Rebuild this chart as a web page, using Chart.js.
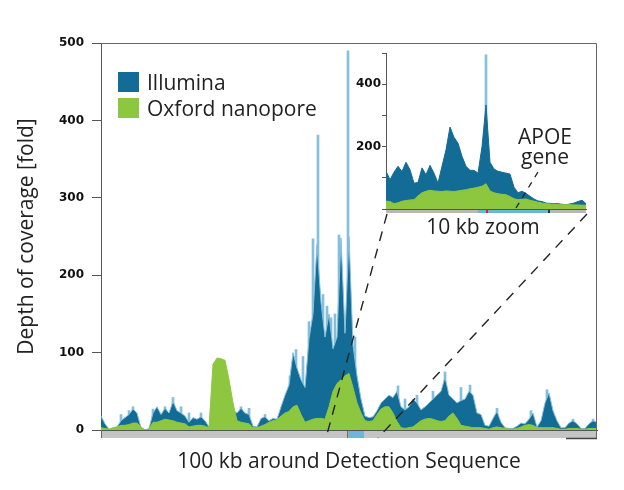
<!DOCTYPE html>
<html>
<head>
<meta charset="utf-8">
<script src="https://cdn.jsdelivr.net/npm/chart.js@4.4.1/dist/chart.umd.min.js"></script>
<style>
  html, body { margin: 0; padding: 0; background: #fff; }
  #wrap { position: relative; width: 624px; height: 490px; font-family: "Open Sans", sans-serif; color: #222; }
  #main { position: absolute; left: 0; top: 0; }
  #inset { position: absolute; left: 352px; top: 45px; }
  .lbl { position: absolute; white-space: nowrap; }
  .legend .row { display: flex; align-items: center; height: 26px; font-size: 21px; }
  .legend .sw { display: inline-block; width: 21px; height: 20px; margin-right: 8px; }
</style>
</head>
<body>
<div id="wrap">
  <canvas id="main" width="624" height="490" style="width:624px;height:490px"></canvas>
  <canvas id="inset" width="243" height="200" style="width:243px;height:200px"></canvas>
  <div class="lbl legend" style="left:118px;top:69px">
    <div class="row"><span class="sw" style="background:#136c96"></span>Illumina</div>
    <div class="row"><span class="sw" style="background:#8dc63f"></span>Oxford nanopore</div>
  </div>
  <div class="lbl" style="left:495px;top:126px;width:100px;text-align:center;font-size:21px;line-height:20px">APOE<br>gene</div>
  <div class="lbl" style="left:413px;top:213px;width:140px;text-align:center;font-size:21px;line-height:26px">10 kb zoom</div>
</div>
<script>
// 100 kb window, one bin every 0.8 kb
const mainKb = Array.from({ length: 125 }, (_, i) => i * 0.8);

const illumina = [
  18, 8, 1, 2, 4, 12, 16, 20, 27, 22,
  3, 0, 2, 22, 30, 20, 28, 22, 37, 25,
  22, 18, 10, 16, 14, 17, 12, 4, 10, 10,
  10, 15, 30, 25, 22, 28, 22, 20, 5, 4,
  15, 17, 12, 15, 14, 30, 45, 58, 100, 80,
  65, 55, 118, 150, 240, 165, 120, 150, 105, 120,
  248, 125, 250, 110, 70, 40, 18, 16, 17, 25,
  35, 40, 45, 42, 50, 30, 26, 30, 40, 35,
  26, 30, 35, 40, 45, 50, 68, 45, 40, 35,
  38, 40, 50, 45, 22, 20, 6, 5, 15, 24,
  10, 3, 2, 2, 5, 9, 8, 14, 22, 4,
  12, 35, 48, 25, 12, 3, 3, 9, 12, 8,
  2, 2, 8, 12, 10
];

const nanopore = [
  3, 2, 1, 3, 4, 6, 6, 7, 9, 9,
  4, 0, 1, 10, 10, 12, 14, 13, 12, 10,
  9, 8, 4, 5, 6, 6, 5, 3, 85, 93,
  92, 90, 65, 35, 12, 10, 9, 8, 3, 3,
  5, 7, 10, 12, 13, 18, 22, 24, 30, 32,
  20, 10, 12, 14, 15, 15, 14, 30, 50, 60,
  65, 70, 73, 55, 35, 22, 12, 11, 12, 20,
  27, 30, 30, 22, 11, 3, 2, 3, 4, 8,
  12, 14, 15, 14, 12, 11, 12, 18, 22, 15,
  6, 5, 4, 3, 3, 3, 2, 1, 3, 4,
  3, 2, 1, 1, 2, 4, 6, 7, 6, 3,
  3, 3, 3, 3, 2, 1, 1, 2, 2, 2,
  1, 1, 2, 2, 2
];

// thin light-blue Illumina read spikes
const spikeKb = [
  4.0, 5.6, 6.4, 10.4, 12.8, 14.4, 16.0, 17.6, 20.0, 28.0, 29.6, 32.8,
  37.8, 39.0, 40.4, 41.6, 42.4, 43.4, 44.4, 45.2, 46.0, 46.8, 47.6, 49.4, 50.8,
  59.4, 60.8, 63.2, 66.4, 68.8, 72.0, 73.8, 79.2, 86.0, 89.2, 94.4, 98.4
];
const spikeDepth = [
  20, 25, 30, 27, 30, 42, 30, 22, 22, 30, 28, 20,
  70, 104, 95, 140, 247, 381, 175, 160, 145, 150, 252, 490, 120,
  57, 40, 45, 50, 75, 55, 58, 28, 25, 52, 14, 14
];

// 10 kb zoom, one bin every 0.2 kb
const zoomKb = Array.from({ length: 51 }, (_, i) => i * 0.2);

const zoomIllumina = [
  121, 94, 118, 137, 120, 150, 126, 83, 85, 132,
  110, 140, 115, 83, 137, 190, 263, 230, 211, 169,
  137, 124, 124, 115, 200, 334, 150, 128, 121, 118,
  115, 112, 70, 52, 57, 50, 41, 32, 26, 24,
  19, 18, 17, 17, 15, 14, 16, 19, 24, 28,
  17
];

const zoomNanopore = [
  25, 24, 17, 20, 25, 27, 29, 30, 42, 52,
  57, 60, 58, 57, 56, 58, 57, 56, 58, 60,
  62, 65, 67, 70, 73, 81, 58, 52, 49, 47,
  46, 40, 33, 30, 31, 32, 28, 25, 22, 19,
  17, 16, 15, 14, 14, 14, 14, 13, 13, 12,
  12
];

const zoomSpikeKb    = [5.0];
const zoomSpikeDepth = [495];

const depthTicks = [0, 100, 200, 300, 400, 500];
const zoomTickLabels = [200, 400];

const DARK = '#136c96', LIGHT = '#86bfdc', GREEN = '#8dc63f', AXIS = '#555';
const tickFont = { family: 'DejaVu Sans', size: 12, weight: 'bold' };

function spikes(kb, depth) {
  return kb.map((x, i) => ({ x, y: depth[i] }));
}

const mainDecor = {
  id: 'mainDecor',
  afterDraw(chart) {
    const { ctx, chartArea: a } = chart;
    const xs = chart.scales.x;
    ctx.save();
    // coverage track bar under the axis
    ctx.fillStyle = '#c4c4c4';
    ctx.fillRect(a.left, a.bottom + 1, a.right - a.left, 7);
    ctx.fillStyle = '#6fb5d5';
    const h0 = xs.getPixelForValue(49.2), h1 = xs.getPixelForValue(52.6);
    ctx.fillRect(h0, a.bottom + 1, h1 - h0, 7);
    ctx.fillStyle = '#b0505a';
    ctx.fillRect(h0, a.bottom + 1, 1, 7);
    // frame
    ctx.strokeStyle = '#666';
    ctx.lineWidth = 1;
    ctx.beginPath();
    ctx.moveTo(a.left, a.top + 0.5);
    ctx.lineTo(a.right - 0.5, a.top + 0.5);
    ctx.lineTo(a.right - 0.5, a.bottom + 8);
    ctx.moveTo(a.left + 0.5, a.bottom);
    ctx.lineTo(a.left + 0.5, a.bottom + 8);
    ctx.stroke();
    ctx.strokeStyle = '#444';
    ctx.lineWidth = 1.5;
    ctx.beginPath();
    ctx.moveTo(a.right - 31, a.bottom + 8.5);
    ctx.lineTo(a.right, a.bottom + 8.5);
    ctx.stroke();
    // zoom connectors
    ctx.strokeStyle = '#222';
    ctx.lineWidth = 1.4;
    ctx.setLineDash([10, 8]);
    ctx.beginPath();
    ctx.moveTo(387, 214);
    ctx.lineTo(326, 438);
    ctx.moveTo(587, 214);
    ctx.lineTo(378, 438);
    ctx.stroke();
    ctx.restore();
  }
};

const insetDecor = {
  id: 'insetDecor',
  afterDraw(chart) {
    const { ctx, chartArea: a } = chart;
    const xs = chart.scales.x;
    ctx.save();
    ctx.fillStyle = '#b8b8b8';
    ctx.fillRect(a.left, a.bottom + 1, a.right - a.left, 3);
    const h0 = xs.getPixelForValue(4.6), h1 = xs.getPixelForValue(8.1);
    ctx.fillStyle = '#6fb5d5';
    ctx.fillRect(h0, a.bottom + 1, h1 - h0, 3);
    ctx.fillStyle = '#c0303a';
    ctx.fillRect(xs.getPixelForValue(5.0), a.bottom + 1, 2, 3);
    ctx.fillStyle = '#333';
    ctx.fillRect(h1, a.bottom + 1, 2, 3);
    // APOE pointer
    ctx.strokeStyle = '#222';
    ctx.lineWidth = 1.3;
    ctx.setLineDash([6, 6]);
    ctx.beginPath();
    ctx.moveTo(516 - 352, 208 - 45);
    ctx.lineTo(538 - 352, 172 - 45);
    ctx.stroke();
    ctx.restore();
  }
};

new Chart(document.getElementById('main').getContext('2d'), {
  type: 'line',
  data: {
    labels: mainKb,
    datasets: [
      {
        label: 'Oxford nanopore',
        data: nanopore,
        borderColor: GREEN,
        backgroundColor: GREEN,
        borderWidth: 1,
        fill: 'origin',
        pointRadius: 0,
        order: 0
      },
      {
        label: 'Illumina',
        data: illumina,
        borderColor: LIGHT,
        backgroundColor: DARK,
        borderWidth: 1,
        fill: 'origin',
        pointRadius: 0,
        order: 1
      },
      {
        type: 'bar',
        label: 'Illumina peaks',
        data: spikes(spikeKb, spikeDepth),
        backgroundColor: LIGHT,
        barThickness: 2,
        order: 2
      }
    ]
  },
  options: {
    responsive: false,
    animation: false,
    layout: { padding: { left: 0, right: 27, top: 43, bottom: 0 } },
    plugins: { legend: { display: false }, tooltip: { enabled: false } },
    scales: {
      x: {
        type: 'linear',
        min: 0,
        max: 99.2,
        offset: false,
        grid: { display: false },
        ticks: { display: false },
        border: { display: true, color: AXIS, width: 1 },
        title: {
          display: true,
          text: '100 kb around Detection Sequence',
          color: '#222',
          font: { family: 'Open Sans', size: 21 },
          padding: { top: 0, bottom: 15 }
        },
        afterFit: (s) => { s.height = 60; }
      },
      y: {
        min: 0,
        max: 500,
        afterBuildTicks: (s) => { s.ticks = depthTicks.map(v => ({ value: v })); },
        ticks: { color: '#111', font: tickFont, padding: 8 },
        grid: { drawOnChartArea: false, drawTicks: true, tickLength: 9, color: AXIS },
        border: { display: true, color: AXIS, width: 1 },
        title: {
          display: true,
          text: 'Depth of coverage [fold]',
          color: '#222',
          font: { family: 'Open Sans', size: 21 },
          padding: { top: 14, bottom: 0 }
        },
        afterFit: (s) => { s.width = 101; }
      }
    }
  },
  plugins: [mainDecor]
});

new Chart(document.getElementById('inset').getContext('2d'), {
  type: 'line',
  data: {
    labels: zoomKb,
    datasets: [
      {
        label: 'Oxford nanopore',
        data: zoomNanopore,
        borderColor: GREEN,
        backgroundColor: GREEN,
        borderWidth: 1,
        fill: 'origin',
        pointRadius: 0,
        order: 0
      },
      {
        label: 'Illumina',
        data: zoomIllumina,
        borderColor: DARK,
        backgroundColor: DARK,
        borderWidth: 1,
        fill: 'origin',
        pointRadius: 0,
        order: 1
      },
      {
        type: 'bar',
        label: 'Illumina peaks',
        data: spikes(zoomSpikeKb, zoomSpikeDepth),
        backgroundColor: LIGHT,
        barThickness: 2,
        order: 2
      }
    ]
  },
  options: {
    responsive: false,
    animation: false,
    layout: { padding: { left: 0, right: 9, top: 8, bottom: 0 } },
    plugins: { legend: { display: false }, tooltip: { enabled: false } },
    scales: {
      x: {
        type: 'linear',
        min: 0,
        max: 10,
        offset: false,
        grid: { display: false },
        ticks: { display: false },
        border: { display: true, color: AXIS, width: 1 },
        afterFit: (s) => { s.height = 36; }
      },
      y: {
        min: 0,
        max: 500,
        afterBuildTicks: (s) => { s.ticks = depthTicks.map(v => ({ value: v })); },
        ticks: {
          color: '#111',
          font: tickFont,
          padding: 1,
          callback: (v) => zoomTickLabels.includes(v) ? String(v) : ''
        },
        grid: { drawOnChartArea: false, drawTicks: true, tickLength: 4, color: AXIS },
        border: { display: true, color: AXIS, width: 1 },
        afterFit: (s) => { s.width = 34; }
      }
    }
  },
  plugins: [insetDecor]
});
</script>
</body>
</html>
